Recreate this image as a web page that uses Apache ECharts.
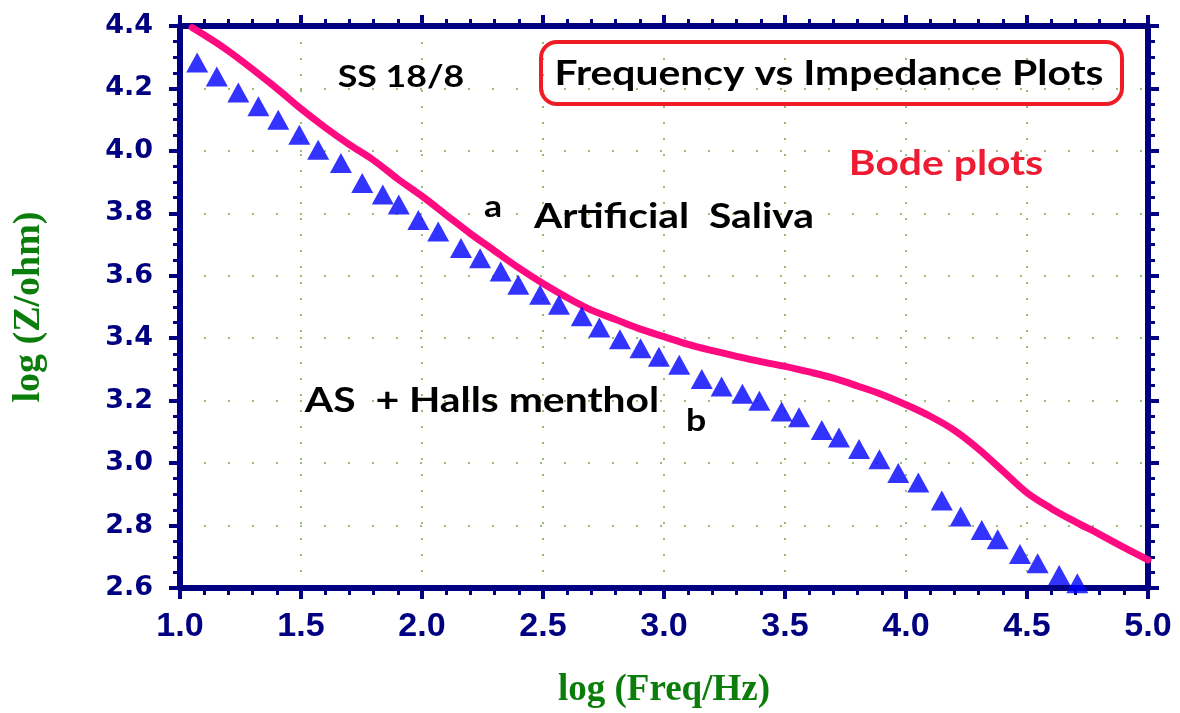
<!DOCTYPE html>
<html>
<head>
<meta charset="utf-8">
<script src="https://cdn.jsdelivr.net/npm/echarts@6/dist/echarts.min.js"></script>
<style>
  html, body { margin: 0; padding: 0; background: #fff; }
  #chart { width: 1180px; height: 713px; }
</style>
</head>
<body>
<div id="chart"></div>
<script>
// curve a: Artificial Saliva (line)
const freqA = [1.05, 1.2, 1.4, 1.5, 1.6, 1.7, 1.8, 1.9, 2.0, 2.1, 2.2, 2.3, 2.4, 2.5, 2.6, 2.7, 2.8, 2.9, 3.0,
  3.1, 3.2, 3.3, 3.4, 3.5, 3.6, 3.7, 3.8, 3.9, 4.0, 4.1, 4.2, 4.3, 4.4, 4.5, 4.6, 4.7, 4.8, 4.9, 5.0];
const impA = [4.395, 4.32, 4.20, 4.135, 4.075, 4.02, 3.97, 3.91, 3.855, 3.795, 3.735, 3.68, 3.625, 3.575, 3.53, 3.49, 3.46, 3.43, 3.405,
  3.38, 3.36, 3.342, 3.325, 3.31, 3.292, 3.272, 3.247, 3.22, 3.187, 3.15, 3.105, 3.045, 2.975, 2.905, 2.855, 2.812, 2.772, 2.73, 2.69];

// curve b: AS + Halls menthol (triangles)
const freqB = [1.071, 1.152, 1.241, 1.324, 1.406, 1.493, 1.571, 1.665, 1.753, 1.838, 1.904, 1.985, 2.067, 2.161, 2.240,
  2.325, 2.398, 2.488, 2.566, 2.660, 2.733, 2.818, 2.903, 2.979, 3.063, 3.156, 3.238, 3.324, 3.394, 3.486,
  3.558, 3.652, 3.723, 3.806, 3.890, 3.968, 4.051, 4.148, 4.226, 4.313, 4.379, 4.471, 4.544, 4.633, 4.708];
const impB = [4.283, 4.238, 4.187, 4.143, 4.100, 4.052, 4.004, 3.961, 3.897, 3.860, 3.828, 3.779, 3.742, 3.689, 3.656,
  3.614, 3.571, 3.539, 3.507, 3.470, 3.434, 3.397, 3.368, 3.341, 3.315, 3.269, 3.245, 3.222, 3.200, 3.165,
  3.147, 3.106, 3.082, 3.045, 3.012, 2.968, 2.938, 2.880, 2.829, 2.786, 2.756, 2.709, 2.679, 2.642, 2.615];

const navy = '#000080';
const green = '#0a7d0a';

const chart = echarts.init(document.getElementById('chart'));

const axisLine = { show: true, lineStyle: { color: navy, width: 6 } };
const gridDots = (dash) => ({ show: true, lineStyle: { color: '#7aa84a', width: 1.5, type: dash } });

const xBase = {
  type: 'value', min: 1, max: 5, interval: 0.5,
  axisLine: axisLine,
  axisTick: { show: true, length: 11, lineStyle: { color: navy, width: 4 } },
  minorTick: { show: true, splitNumber: 5, length: 7, lineStyle: { color: navy, width: 3 } }
};
const yBase = {
  type: 'value', min: 2.6, max: 4.4, interval: 0.2,
  axisLine: axisLine,
  axisTick: { show: true, length: 11, lineStyle: { color: navy, width: 4 } },
  minorTick: { show: true, splitNumber: 4, length: 7, lineStyle: { color: navy, width: 3 } }
};

// annotation text, stretched sideways like the original figure
const label = (text, x, y, size, sx, color) => ({
  type: 'text', x: x, y: y, scaleX: sx, z: 10,
  style: { text: text, fill: color || '#000', font: 'bold ' + size + 'px Lato', align: 'center', verticalAlign: 'middle' }
});

const option = {
  backgroundColor: '#fff',
  animation: false,
  grid: { left: 180, right: 32, top: 26, bottom: 125, containLabel: false, outerBoundsMode: 'none' },
  xAxis: [
    Object.assign({}, xBase, {
      position: 'bottom',
      name: 'log (Freq/Hz)', nameLocation: 'middle', nameGap: 84,
      nameTextStyle: { color: green, fontFamily: 'Liberation Serif', fontWeight: 'bold', fontSize: 37 },
      axisLabel: { color: navy, fontFamily: 'Liberation Sans', fontWeight: 'bold', fontSize: 34, margin: 22,
        formatter: (v) => v.toFixed(1) },
      splitLine: gridDots([2, 14])
    }),
    Object.assign({}, xBase, {
      position: 'top', axisLabel: { show: false }, splitLine: { show: false }
    })
  ],
  yAxis: [
    Object.assign({}, yBase, {
      position: 'left',
      name: 'log (Z/ohm)', nameLocation: 'middle', nameGap: 132, nameRotate: 90,
      nameTextStyle: { color: green, fontFamily: 'Liberation Serif', fontWeight: 'bold', fontSize: 38 },
      axisLabel: { color: navy, fontFamily: 'DejaVu Sans', fontWeight: 'bold', fontSize: 27, margin: 27,
        formatter: (v) => v.toFixed(1) },
      splitLine: gridDots([2, 22])
    }),
    Object.assign({}, yBase, {
      position: 'right', axisLabel: { show: false }, splitLine: { show: false }
    })
  ],
  series: [
    {
      name: 'Artificial Saliva', type: 'line', smooth: 0.35,
      data: freqA.map((x, i) => [x, impA[i]]),
      symbol: 'none',
      lineStyle: { color: '#ff0a80', width: 7, cap: 'round' },
      z: 3
    },
    {
      name: 'AS + Halls menthol', type: 'scatter',
      data: freqB.map((x, i) => [x, impB[i]]),
      symbol: 'triangle', symbolSize: [22, 20],
      itemStyle: { color: '#0000ff' },
      clip: false,
      z: 4
    }
  ],
  graphic: [
    { type: 'rect', shape: { x: 541, y: 42, width: 581, height: 62, r: 16 },
      style: { fill: 'none', stroke: '#ee1c25', lineWidth: 4 }, z: 10 },
    label('Frequency vs Impedance Plots', 829, 74, 34, 1.2),
    label('SS 18/8', 401, 77, 31, 1.15),
    label('Bode plots', 946, 164, 34, 1.2, '#ee1c33'),
    label('a', 493, 207, 31, 1.15),
    label('Artificial  Saliva', 674, 217, 34, 1.2),
    label('AS  + Halls menthol', 482, 401, 34, 1.2),
    label('b', 696, 421, 31, 1.15)
  ]
};

chart.setOption(option);
</script>
</body>
</html>
